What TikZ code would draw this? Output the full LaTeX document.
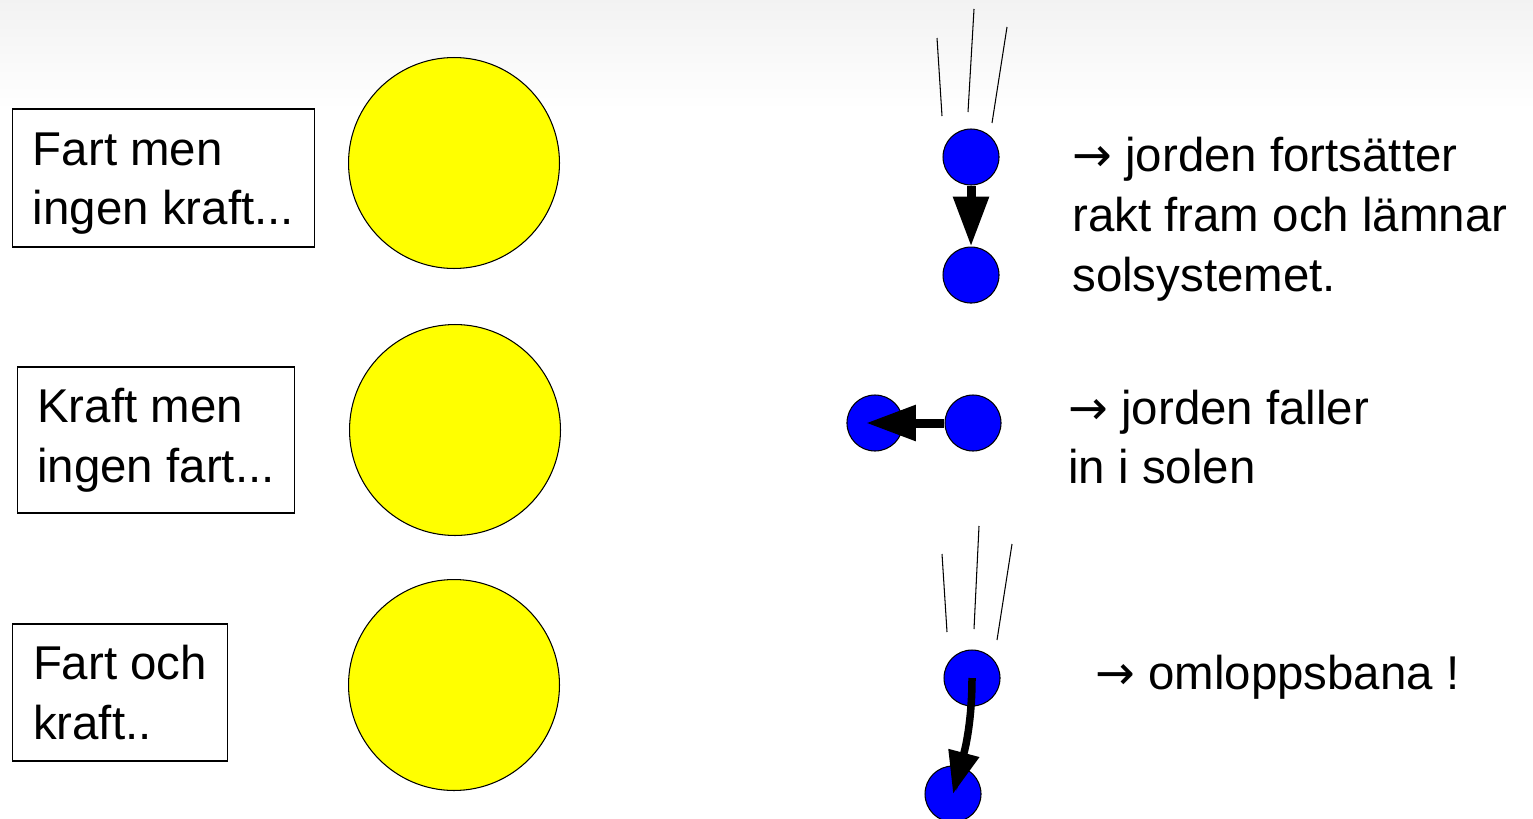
\documentclass[tikz,border=0pt]{standalone}
\usepackage{fontspec}
\setmainfont{Liberation Sans}
\newfontfamily\arrowfont{DejaVu Sans}
\usepackage{tikz}
\usetikzlibrary{positioning,arrows.meta,shapes}
\definecolor{sunyellow}{RGB}{255,255,0}
\definecolor{earthblue}{RGB}{0,0,255}
\newcommand{\goes}{{\arrowfont →}}

\begin{document}
\begin{tikzpicture}[x=0.02cm, y=-0.02cm,
    textbox/.style={rectangle, draw=black, line width=0.6pt, align=left,
                    inner xsep=11.4pt, font=\fontsize{27}{34}\selectfont},
    sun/.style={circle, draw=black, line width=0.6pt, fill=sunyellow,
                minimum size=4.22cm, inner sep=0pt},
    earth/.style={circle, draw=black, line width=0.6pt, fill=earthblue,
                  minimum size=1.12cm, inner sep=0pt},
    note/.style={align=left, inner sep=0pt, anchor=west,
                 font=\fontsize{27}{34}\selectfont},
    push/.style={-{Triangle[length=1cm, width=0.68cm]}, line width=0.18cm, black},
    trail/.style={line width=0.6pt, black}
]
\useasboundingbox (0,0) rectangle (1533,818);
\shade[top color=black!5, bottom color=white] (0,0) rectangle (1533,110);

% boxes
\node[textbox, minimum height=2.76cm] (speed) at (163.5,178) {\rule{0pt}{25pt}Fart men\\ingen kraft...};
\node[textbox, minimum height=2.92cm] (force) at (156,440) {Kraft men\\ingen fart...};
\node[textbox, minimum height=2.74cm] (both) at (120,692.5) {Fart och\\kraft..};

% suns
\node[sun] (sun1) at (454,163) {};
\node[sun] (sun2) at (455,430) {};
\node[sun] (sun3) at (454,685) {};

% earths
\node[earth] (e1a) at (971,157) {};
\node[earth, below=1.22cm of e1a] (e1b) {};
\node[earth] (e2a) at (973,423) {};
\node[earth, left=0.82cm of e2a] (e2b) {};
\node[earth] (e3a) at (972,678) {};
\node[earth] (e3b) at (953,794) {};

% motion trails
\draw[trail] (937,38) -- (942,116);
\draw[trail] (974,9) -- (968,112);
\draw[trail] (1007,27) -- (992,123);
\draw[trail] (942,554) -- (947,632);
\draw[trail] (979,526) -- (974,629);
\draw[trail] (1012,544) -- (997,640);

% arrows
\draw[push] (e1a.south) -- (e1b.north);
\draw[push, shorten >=-0.18cm] (e2a.west) -- (e2b.center);
\draw[push, -{Triangle[length=0.85cm, width=0.6cm]}, line width=0.15cm]
    (e3a.center) .. controls (972,730) and (962,760) .. (e3b.center);

% notes
\node[note] (n1) at (1072,219) {\goes{} jorden fortsätter\\rakt fram och lämnar\\solsystemet.};
\node[note] (n2) at (1068,437) {\goes{} jorden faller\\in i solen};
\node[note] (n3) at (1095,677) {\goes{} omloppsbana !};
\end{tikzpicture}
\end{document}
